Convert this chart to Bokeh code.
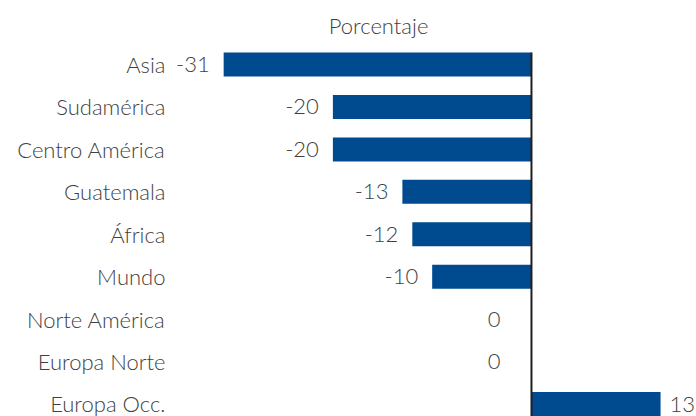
from bokeh.plotting import figure
from bokeh.models import Range1d, FixedTicker, ColumnDataSource, Label
from bokeh.core.properties import value
from bokeh.embed import file_html
from bokeh.resources import INLINE

categories = ["Asia", "Sudamérica", "Centro América", "Guatemala", "África",
              "Mundo", "Norte América", "Europa Norte", "Europa Occ."]
values = [-31, -20, -20, -13, -12, -10, 0, 0, 13]
title_text = "Porcentaje"

FONT = "Lato Light"
TXT = "#3f3f3f"
BAR = "#004A8F"
FS = "22px"
bar_h = 0.565

n = len(categories)
ys = [n - 1 - i for i in range(n)]

p = figure(width=696, height=416,
           x_range=Range1d(-35.85, 16.62), y_range=Range1d(-0.292, 9.508),
           output_backend="svg", toolbar_location=None,
           x_axis_location=None,
           min_border_left=175, min_border_right=0,
           min_border_top=0, min_border_bottom=0)
p.outline_line_color = None
p.xgrid.visible = False
p.ygrid.visible = False

src = ColumnDataSource(dict(y=ys, v=values, cat=categories))
p.hbar(y="y", left=0, right="v", height=bar_h, source=src,
       fill_color=BAR, line_color=None)

# zero line
p.segment(x0=[0], x1=[0], y0=[p.y_range.start], y1=[ys[0] + bar_h / 2],
          line_color="#231F20", line_width=2)

# value labels
neg = [(y, v) for y, v in zip(ys, values) if v < 0]
zer = [(y, v) for y, v in zip(ys, values) if v == 0]
pos = [(y, v) for y, v in zip(ys, values) if v > 0]

def add_labels(items, align, xoff):
    if not items:
        return
    s = ColumnDataSource(dict(y=[a for a, b in items], v=[b for a, b in items],
                              t=[str(b) for a, b in items]))
    p.text(x="v", y="y", text="t", source=s, text_align=align, x_offset=xoff,
           text_baseline="middle", text_font=value(FONT), text_font_size=FS,
           text_color=TXT)

add_labels(neg, "right", -14)
add_labels(zer, "right", -31)
add_labels(pos, "left", 9)

# axis labels
ax = p.yaxis[0]
ax.ticker = FixedTicker(ticks=ys)
ax.major_label_overrides = {y: c for y, c in zip(ys, categories)}
ax.axis_line_color = None
ax.major_tick_line_color = None
ax.minor_tick_line_color = None
ax.major_tick_out = 0
ax.major_tick_in = 0
ax.major_label_standoff = 10
ax.major_label_text_font = FONT
ax.major_label_text_font_size = FS
ax.major_label_text_color = TXT

p.add_layout(Label(x=-15.4, y=8.919, text=title_text, text_align="center",
                   text_baseline="middle", text_font=FONT, text_font_size=FS,
                   text_color=TXT))

open("out.html", "w").write(file_html(p, INLINE))
